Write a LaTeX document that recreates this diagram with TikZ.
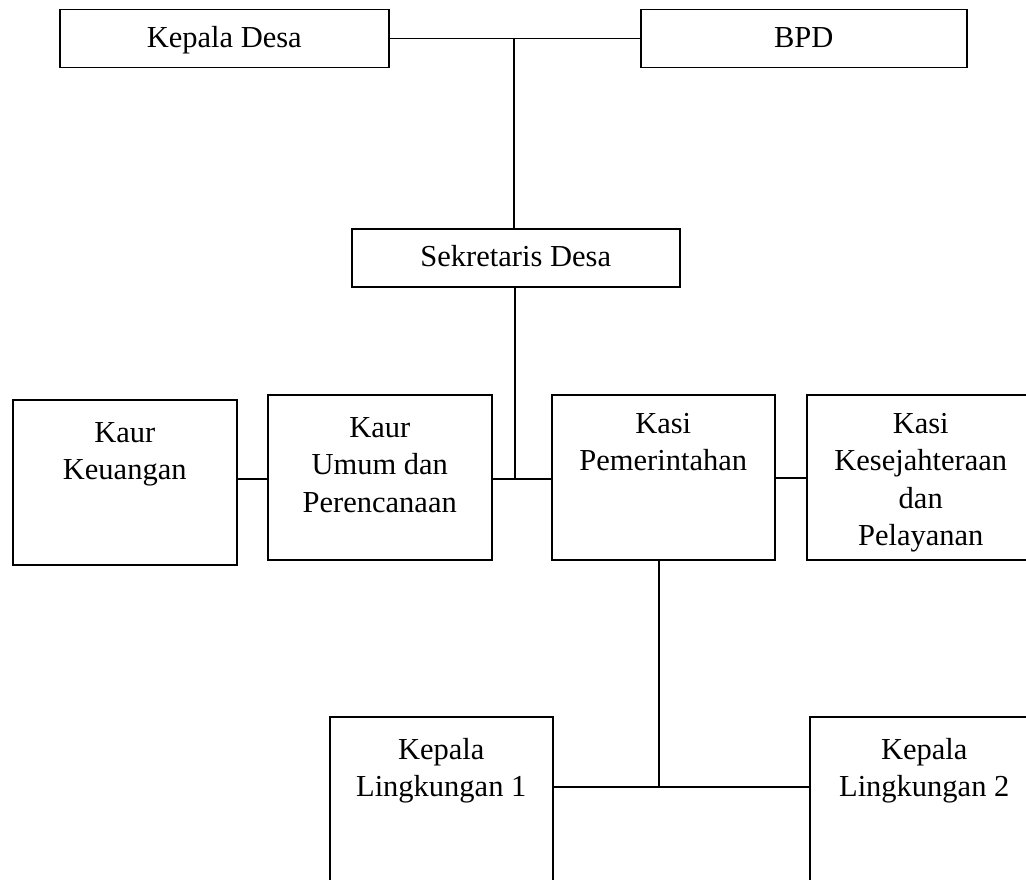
\documentclass[tikz,border=0pt]{standalone}
\usepackage{fontspec}
\setmainfont{Liberation Serif}
\usetikzlibrary{positioning}
\newcommand\boxfont{\fontsize{30.5}{37.5}\selectfont}
\tikzset{
    unitbox/.style={draw=black, line width=1.5pt, inner sep=0pt, anchor=north west, font=\boxfont},
    onerow/.style={unitbox, minimum height=58pt, text height=20pt, text depth=2pt},
    boxtext/.style={anchor=north, inner sep=0pt, align=center, font=\boxfont},
    link/.style={line width=1.5pt}
}

\begin{document}
\begin{tikzpicture}[x=1pt, y=-1pt]

\useasboundingbox (0,0) rectangle (1026,880);
\clip (0,0) rectangle (1026,880);

% top row
\node[onerow, minimum width=329pt] (kades) at (59,9) {Kepala Desa};
\node[onerow, minimum width=326pt] (bpd) at (640,9) {BPD};
\node[onerow, minimum width=328pt] (sekdes) at (351,228) {Sekretaris Desa};

% middle row
\node[unitbox, minimum width=224pt, minimum height=165pt] (keu) at (12,399) {};
\node[unitbox, minimum width=224pt, minimum height=165pt] (umum) at (267,394) {};
\node[unitbox, minimum width=223pt, minimum height=165pt] (pem) at (551,394) {};
\node[unitbox, minimum width=228pt, minimum height=165pt] (kesra) at (806,394) {};

\node[boxtext, below=23pt of keu.north] (keutext) {Kaur\\Keuangan};
\node[boxtext, below=23pt of umum.north] (umumtext) {Kaur\\Umum dan\\Perencanaan};
\node[boxtext, below=19pt of pem.north] (pemtext) {Kasi\\Pemerintahan};
\node[boxtext, below=19pt of kesra.north] (kesratext) {Kasi\\Kesejahteraan\\dan\\Pelayanan};

% bottom row
\node[unitbox, minimum width=223pt, minimum height=190pt] (ling1) at (329,716) {};
\node[unitbox, minimum width=229pt, minimum height=190pt] (ling2) at (809,716) {};

\node[boxtext, below=22pt of ling1.north] (ling1text) {Kepala\\Lingkungan 1};
\node[boxtext, below=22pt of ling2.north] (ling2text) {Kepala\\Lingkungan 2};

% connectors
\coordinate (jtop) at (514,38);
\coordinate (jmid) at (515,479);
\coordinate (jlow) at (659,787);

\draw[link] (kades.east) -- (bpd.west);
\draw[link] (jtop) -- (sekdes.north -| jtop);
\draw[link] (sekdes.south -| jmid) -- (jmid);
\draw[link] (keu.east |- jmid) -- (umum.west |- jmid);
\draw[link] (umum.east |- jmid) -- (pem.west |- jmid);
\draw[link] (pem.east |- 0,478) -- (kesra.west |- 0,478);
\draw[link] (pem.south -| jlow) -- (jlow);
\draw[link] (ling1.east |- jlow) -- (ling2.west |- jlow);

\end{tikzpicture}
\end{document}
